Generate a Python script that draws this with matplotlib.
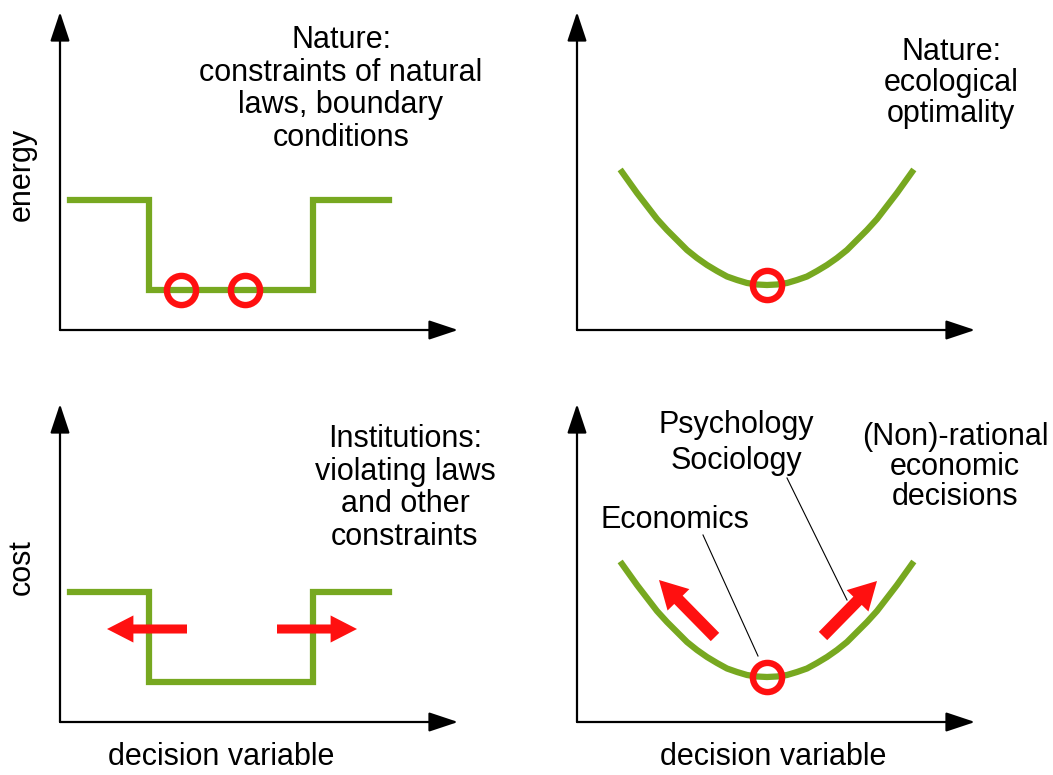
import matplotlib
matplotlib.use('Agg')
import matplotlib.pyplot as plt

plt.rcParams['font.family'] = ['Liberation Sans', 'DejaVu Sans']

W, H = 1053, 775
GREEN = '#77a820'
RED = '#ff1010'

# panel axis boxes (origin x, origin y from top) in pixels
panels = {'tl': (60, 330), 'tr': (577, 330), 'bl': (60, 722), 'br': (577, 722)}
ax_w, ax_h = 398, 318

# step profile (hard constraints)
step_x = [10, 89, 89, 253, 253, 329]
step_y = [130, 130, 40, 40, 130, 130]
step_opt_x = [121, 185]
step_opt_y = [40, 40]

# smooth valley (optimum)
valley_x = [45, 50, 60, 70, 80, 90, 100, 110, 120, 130, 140, 150, 160, 170, 180, 190,
            200, 210, 220, 230, 240, 250, 260, 270, 280, 290, 300, 310, 320, 330, 335]
valley_y = [158, 151, 137, 124, 111, 100, 90, 80, 72, 65, 59, 53.5, 50, 47, 45.5, 45,
            45.5, 47, 50, 53.5, 59, 65, 72, 80, 90, 100, 111, 124, 137, 151, 158]
valley_opt = (190, 45)

# red push arrows (tail -> head)
bl_arrows = [((127, 93), (47, 93)), ((217, 93), (297, 93))]
br_arrows = [((138, 85), (82, 142)), ((246, 86), (300, 141))]

# leader lines in the bottom right panel
leaders = [((126, 187), (181, 66)), ((210, 244), (270, 122))]

fig = plt.figure(figsize=(W / 100, H / 100), dpi=100)


def panel(key):
    ox, oy = panels[key]
    ax = fig.add_axes([ox / W, 1 - oy / H, ax_w / W, ax_h / H])
    ax.set_xlim(0, ax_w)
    ax.set_ylim(0, ax_h)
    ax.axis('off')
    ap = dict(arrowstyle='-|>,head_length=0.9,head_width=0.3', mutation_scale=20,
              color='black', lw=1.6, shrinkA=0, shrinkB=0)
    ax.annotate('', xy=(ax_w, 0), xytext=(0, 0), arrowprops=ap, annotation_clip=False)
    ax.annotate('', xy=(0, ax_h), xytext=(0, 0), arrowprops=ap, annotation_clip=False)
    return ax


def red_arrow(ax, tail, head, style):
    ax.annotate('', xy=head, xytext=tail, annotation_clip=False,
                arrowprops=dict(arrowstyle=style, mutation_scale=10, color=RED, lw=0,
                                shrinkA=0, shrinkB=0))


def ring(ax, x, y):
    ax.plot(x, y, 'o', ms=21, mfc='none', mec=RED, mew=4.6, clip_on=False, zorder=5)


def txt(x, y, s, ls=1.12, **kw):
    fig.text(x / W, 1 - y / H, s, ha='center', va='center', fontsize=22,
             multialignment='center', linespacing=ls, **kw)


# top left
ax = panel('tl')
ax.plot(step_x, step_y, color=GREEN, lw=4.5, solid_joinstyle='miter', clip_on=False)
ring(ax, step_opt_x, step_opt_y)
txt(341, 89, 'Nature:\nconstraints of natural\nlaws, boundary\nconditions')
txt(22, 174, 'energy', rotation=90)

# top right
ax = panel('tr')
ax.plot(valley_x, valley_y, color=GREEN, lw=4.5, clip_on=False)
ring(ax, [valley_opt[0]], [valley_opt[1]])
txt(951, 83, 'Nature:\necological\noptimality', ls=1.05)

# bottom left
ax = panel('bl')
ax.plot(step_x, step_y, color=GREEN, lw=4.5, solid_joinstyle='miter', clip_on=False)
for tail, head in bl_arrows:
    red_arrow(ax, tail, head, 'simple,head_length=1.9,head_width=1.95,tail_width=0.65')
txt(405, 488, 'Institutions:\nviolating laws\nand other\nconstraints')
txt(22, 567, 'cost', rotation=90)
txt(221, 757, 'decision variable')

# bottom right
ax = panel('br')
ax.plot(valley_x, valley_y, color=GREEN, lw=4.5, clip_on=False)
for (x0, y0), (x1, y1) in leaders:
    ax.plot([x0, x1], [y0, y1], color='black', lw=0.8, clip_on=False)
for tail, head in br_arrows:
    red_arrow(ax, tail, head, 'simple,head_length=2.0,head_width=2.2,tail_width=0.85')
ring(ax, [valley_opt[0]], [valley_opt[1]])
txt(736, 443, 'Psychology\nSociology', ls=1.3)
txt(955, 467, '(Non)-rational\neconomic\ndecisions', ls=1.02)
txt(675, 520, 'Economics')
txt(773, 757, 'decision variable')

fig.savefig('out.png', dpi=100)
